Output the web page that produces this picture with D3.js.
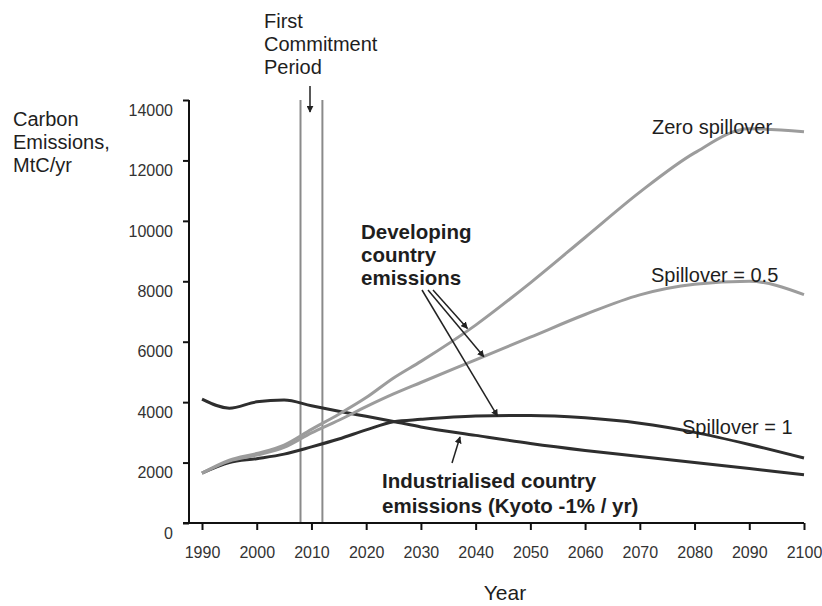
<!DOCTYPE html>
<html>
<head>
<meta charset="utf-8">
<script src="https://cdn.jsdelivr.net/npm/d3@7"></script>
<style>
  html, body { margin: 0; padding: 0; background: #fff; }
  svg { display: block; font-family: "Liberation Sans", Arial, sans-serif; }
</style>
</head>
<body>
<svg id="chart" width="822" height="606"></svg>
<script>
// ---- data ----
const years = [1990, 1995, 2000, 2005, 2010, 2015, 2020, 2025, 2030, 2040, 2050, 2060, 2070, 2080, 2090, 2100];
const zeroSpillover = [1650, 2080, 2300, 2580, 3100, 3600, 4150, 4800, 5350, 6550, 7950, 9450, 10950, 12250, 13050, 12950];
const spillover05   = [1650, 2050, 2250, 2500, 2980, 3400, 3850, 4270, 4650, 5400, 6150, 6900, 7550, 7900, 8000, 7560];
const spillover1    = [1650, 2000, 2130, 2280, 2520, 2780, 3080, 3350, 3430, 3540, 3560, 3480, 3300, 3000, 2600, 2150];
const industrialised = [4100, 3800, 4010, 4070, 3880, 3700, 3530, 3360, 3180, 2900, 2630, 2400, 2200, 2000, 1800, 1600];
const xTicks = [1990, 2000, 2010, 2020, 2030, 2040, 2050, 2060, 2070, 2080, 2090, 2100];
const yTicks = [0, 2000, 4000, 6000, 8000, 10000, 12000, 14000];
const commitmentPeriod = [2008, 2012];

// ---- layout ----
const svg = d3.select("#chart");
const x = d3.scaleLinear().domain([1990, 2100]).range([202, 804]);
const y = d3.scaleLinear().domain([0, 14000]).range([523, 100]);
const axisX = 189;

const dark = "#2e2e2e", gray = "#9c9c9c", vgray = "#8a8a8a";

svg.append("defs").append("marker")
  .attr("id", "arrow").attr("viewBox", "0 0 10 10")
  .attr("refX", 9).attr("refY", 5)
  .attr("markerWidth", 7).attr("markerHeight", 7)
  .attr("markerUnits", "userSpaceOnUse")
  .attr("orient", "auto")
  .append("path").attr("d", "M0,0 L10,5 L0,10 z").attr("fill", "#222");

// commitment period vertical lines
svg.selectAll(".cp").data(commitmentPeriod).enter().append("line")
  .attr("x1", d => x(d)).attr("x2", d => x(d))
  .attr("y1", y(14000)).attr("y2", y(0))
  .attr("stroke", vgray).attr("stroke-width", 2);

// y axis
const yAxis = d3.axisLeft(y).tickValues(yTicks).tickSize(6).tickPadding(10).tickFormat(d3.format("d"));
const gy = svg.append("g").attr("transform", `translate(${axisX},0)`).call(yAxis);
gy.select(".domain").attr("d", `M0,${y(14000)}V${y(0)}`).attr("stroke", "#111").attr("stroke-width", 2);
gy.selectAll(".tick line").attr("stroke", "#111").attr("stroke-width", 2);
gy.selectAll(".tick text").attr("font-size", 16).attr("fill", "#333").attr("dy", "0.95em")
  .attr("font-family", "Liberation Sans, Arial, sans-serif");

// x axis
const xAxis = d3.axisBottom(x).tickValues(xTicks).tickSize(7).tickPadding(17).tickFormat(d3.format("d"));
const gx = svg.append("g").attr("transform", `translate(0,${y(0)})`).call(xAxis);
gx.select(".domain").attr("d", `M${axisX - 6},0H${x(2100)}`).attr("stroke", "#111").attr("stroke-width", 2);
gx.selectAll(".tick line").attr("stroke", "#111").attr("stroke-width", 2);
gx.selectAll(".tick text").attr("font-size", 16).attr("fill", "#333")
  .attr("font-family", "Liberation Sans, Arial, sans-serif");

// lines
const line = d3.line().x(d => x(d[0])).y(d => y(d[1])).curve(d3.curveMonotoneX);
const series = [
  { vals: industrialised, color: dark },
  { vals: spillover1, color: dark },
  { vals: spillover05, color: gray },
  { vals: zeroSpillover, color: gray }
];
series.forEach(s => {
  svg.append("path")
    .datum(years.map((yr, i) => [yr, s.vals[i]]))
    .attr("d", line).attr("fill", "none")
    .attr("stroke", s.color).attr("stroke-width", 3)
    .attr("stroke-linejoin", "round");
});

// texts
function multiText(lines, x0, y0, lh, size, weight, anchor) {
  const t = svg.append("text").attr("x", x0).attr("y", y0)
    .attr("font-size", size).attr("font-weight", weight || "normal")
    .attr("fill", "#1e1e1e").attr("text-anchor", anchor || "start");
  lines.forEach((l, i) => t.append("tspan").attr("x", x0).attr("dy", i === 0 ? 0 : lh).text(l));
}
multiText(["First", "Commitment", "Period"], 264, 28, 23, 20);
multiText(["Carbon", "Emissions,", "MtC/yr"], 13, 126, 23, 20);
multiText(["Developing", "country", "emissions"], 361, 239, 23, 20.5, "bold");
multiText(["Industrialised country", "emissions (Kyoto -1% / yr)"], 382, 488, 25, 20.5, "bold");
svg.append("text").attr("x", 652).attr("y", 134).attr("font-size", 20).attr("fill", "#1e1e1e").text("Zero spillover");
svg.append("text").attr("x", 651).attr("y", 282).attr("font-size", 20).attr("fill", "#1e1e1e").text("Spillover = 0.5");
svg.append("text").attr("x", 682).attr("y", 434).attr("font-size", 20).attr("fill", "#1e1e1e").text("Spillover = 1");
svg.append("text").attr("x", 505).attr("y", 600).attr("font-size", 21).attr("fill", "#1e1e1e")
  .attr("text-anchor", "middle").text("Year");

// arrows
function arrow(x1, y1, x2, y2) {
  svg.append("line").attr("x1", x1).attr("y1", y1).attr("x2", x2).attr("y2", y2)
    .attr("stroke", "#222").attr("stroke-width", 1.5).attr("marker-end", "url(#arrow)");
}
arrow(310, 86, 310, 112);
arrow(422, 290, x(2044), y(3540));
arrow(428, 290, x(2041.5), y(5500));
arrow(433, 290, x(2038.5), y(6440));
arrow(452, 463, 460, 437);
</script>
</body>
</html>
